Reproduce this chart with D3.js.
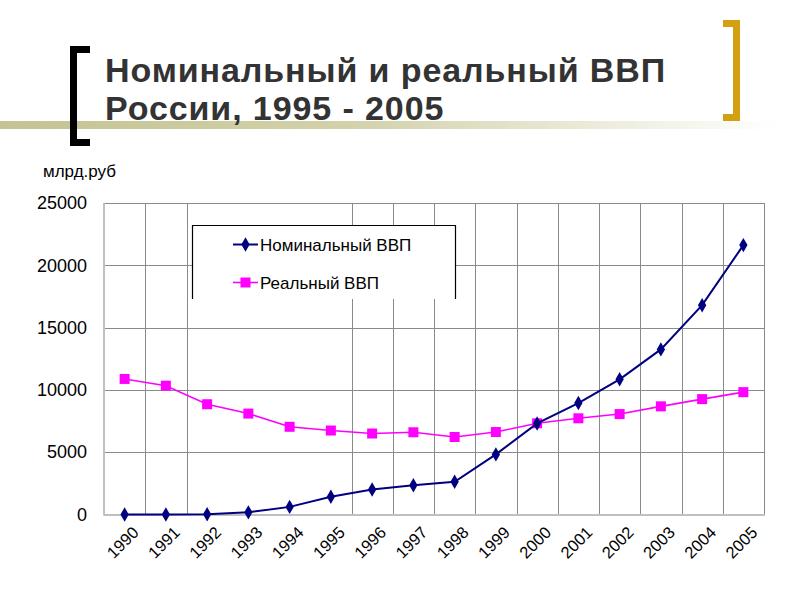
<!DOCTYPE html>
<html><head><meta charset="utf-8">
<script src="https://cdn.jsdelivr.net/npm/d3@7/dist/d3.min.js"></script>
<style>
body{margin:0;background:#fff;}
svg{display:block;font-family:"Liberation Sans",Arial,sans-serif;}
</style></head>
<body>
<svg id="c" width="800" height="600"></svg>
<script>
const titleLines = ["Номинальный и реальный ВВП", "России, 1995 - 2005"];
const unitLabel = "млрд.руб";
const years = ["1990","1991","1992","1993","1994","1995","1996","1997","1998","1999","2000","2001","2002","2003","2004","2005"];
const nominal = [0.6, 1.4, 19, 172, 611, 1429, 2008, 2343, 2630, 4823, 7306, 8944, 10850, 13250, 16800, 21620];
const real = [10880, 10340, 8850, 8100, 7040, 6740, 6500, 6600, 6220, 6620, 7320, 7720, 8060, 8680, 9260, 9820];
const yTicks = [0, 5000, 10000, 15000, 20000, 25000];
const gridYears = ["1991","1992","1996","1997","1998","1999","2000","2001","2002","2003","2004","2005"];
const seriesNames = ["Номинальный ВВП", "Реальный ВВП"];

const svg = d3.select("#c");
const L = 104, R = 764, T = 203, B = 514.5;
const x = d3.scaleBand().domain(years).range([L, R]);
const y = d3.scaleLinear().domain([0, 25000]).range([B, T]);

// decorations
const defs = svg.append("defs");
const g = defs.append("linearGradient").attr("id","band").attr("x1","0").attr("x2","1");
g.append("stop").attr("offset","0").attr("stop-color","#c4c393");
g.append("stop").attr("offset","0.45").attr("stop-color","#d2d1aa");
g.append("stop").attr("offset","1").attr("stop-color","#ffffff");
svg.append("rect").attr("x",0).attr("y",121).attr("width",780).attr("height",8).attr("fill","url(#band)");

// left bracket
svg.append("path").attr("d","M90,46 H70 V146 H90 V139 H77 V53 H90 Z").attr("fill","#000");
// right bracket
svg.append("path").attr("d","M723,20 H740 V121 H723 V114 H733 V27 H723 Z").attr("fill","#d2a010");

// title (one text element, two lines)
const title = svg.append("text").attr("font-size",34).attr("font-weight","bold").attr("fill","#333").attr("letter-spacing",0.9);
title.append("tspan").attr("x",105).attr("y",82).text(titleLines[0]);
title.append("tspan").attr("x",105).attr("y",120).text(titleLines[1]);

svg.append("text").attr("x",43).attr("y",177).attr("font-size",17).attr("fill","#000").text(unitLabel);

// horizontal grid + y labels
const yAxis = svg.append("g").attr("transform",`translate(${L},0)`)
  .call(d3.axisLeft(y).tickValues(yTicks).tickSize(0).tickPadding(17).tickFormat(d3.format("d")));
yAxis.select(".domain").remove();
yAxis.selectAll("text").attr("font-size",18).attr("fill","#000").attr("font-family","Liberation Sans, Arial, sans-serif");
svg.append("g").selectAll("line").data(yTicks.filter(d=>d>0)).join("line")
  .attr("x1",L).attr("x2",R).attr("y1",d=>Math.round(y(d))+0.5).attr("y2",d=>Math.round(y(d))+0.5)
  .attr("stroke","#8a8a8a").attr("stroke-width",1);
// vertical grid
svg.append("g").selectAll("line").data(gridYears).join("line")
  .attr("x1",d=>Math.round(x(d))+0.5).attr("x2",d=>Math.round(x(d))+0.5).attr("y1",T).attr("y2",B)
  .attr("stroke","#8a8a8a").attr("stroke-width",1);
// right border
svg.append("line").attr("x1",R+0.5).attr("x2",R+0.5).attr("y1",T).attr("y2",B).attr("stroke","#8a8a8a");
// left & bottom axis lines
svg.append("line").attr("x1",L).attr("x2",L).attr("y1",T).attr("y2",B+1).attr("stroke","#c0c0c0").attr("stroke-width",2);
svg.append("line").attr("x1",L).attr("x2",R+1).attr("y1",B+0.5).attr("y2",B+0.5).attr("stroke","#c0c0c0").attr("stroke-width",2);

// x labels
const xAxis = svg.append("g").attr("transform",`translate(0,${B})`)
  .call(d3.axisBottom(x).tickSize(0).tickPadding(0));
xAxis.select(".domain").remove();
xAxis.selectAll("text").attr("font-size",16.5).attr("fill","#000").attr("font-family","Liberation Sans, Arial, sans-serif")
  .attr("text-anchor","end").attr("dy",null).attr("y",0)
  .attr("transform","translate(15,19) rotate(-45)");

// legend
const lg = svg.append("g");
lg.append("rect").attr("x",192).attr("y",225).attr("width",263).attr("height",74).attr("fill","#fff");
lg.append("path").attr("d","M192.5,299 V225.5 H455.5 V299").attr("fill","none").attr("stroke","#000").attr("stroke-width",1.2);

const cx = d => x(d) + x.bandwidth()/2;
const diamond = d3.symbol().type(d3.symbolDiamond).size(60);

// real series
svg.append("path").datum(real).attr("fill","none").attr("stroke","#ff00ff").attr("stroke-width",1.6)
  .attr("d", d3.line().x((d,i)=>cx(years[i])).y(d=>y(d)));
svg.append("g").selectAll("rect").data(real).join("rect")
  .attr("x",(d,i)=>cx(years[i])-5).attr("y",d=>y(d)-5).attr("width",10).attr("height",10).attr("fill","#ff00ff");

// nominal series
svg.append("path").datum(nominal).attr("fill","none").attr("stroke","#000080").attr("stroke-width",2)
  .attr("d", d3.line().x((d,i)=>cx(years[i])).y(d=>y(d)));
svg.append("g").selectAll("path").data(nominal).join("path")
  .attr("d",diamond).attr("transform",(d,i)=>`translate(${cx(years[i])},${y(d)})`).attr("fill","#000080");

// legend entries
lg.append("line").attr("x1",233).attr("x2",258).attr("y1",244.5).attr("y2",244.5).attr("stroke","#000080").attr("stroke-width",2);
lg.append("path").attr("d",diamond).attr("transform","translate(245.5,244.5)").attr("fill","#000080");
lg.append("text").attr("x",260).attr("y",250.5).attr("font-size",17).text(seriesNames[0]);
lg.append("line").attr("x1",233).attr("x2",258).attr("y1",282.5).attr("y2",282.5).attr("stroke","#ff00ff").attr("stroke-width",1.6);
lg.append("rect").attr("x",240.5).attr("y",277.5).attr("width",10).attr("height",10).attr("fill","#ff00ff");
lg.append("text").attr("x",260).attr("y",288.5).attr("font-size",17).text(seriesNames[1]);
</script>
</body></html>
